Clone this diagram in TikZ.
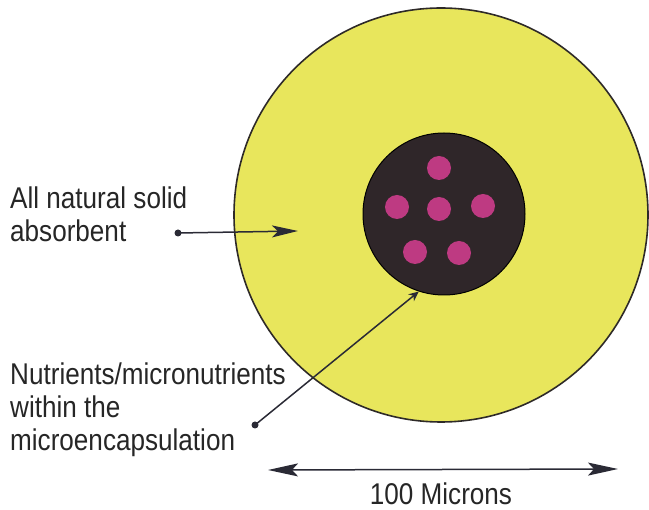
\documentclass[tikz,border=0pt]{standalone}
\usepackage{fontspec}
\usepackage{tikz}
\usetikzlibrary{arrows.meta}
\newfontfamily\labelfont{Liberation Sans}[FakeStretch=0.87]
\definecolor{SorbentYellow}{HTML}{E8E65C}
\definecolor{SorbentEdge}{HTML}{2E2A28}
\definecolor{CapsuleDark}{HTML}{2F2629}
\definecolor{NutrientPink}{HTML}{BE3A82}
\definecolor{LabelText}{HTML}{262626}
\definecolor{PointerLine}{HTML}{2A2A35}

\begin{document}
\begin{tikzpicture}[x=1pt,y=-1pt,
    label text/.style={text=LabelText,font=\labelfont\fontsize{30}{33}\selectfont,align=left,inner sep=0pt},
    pointer/.style={PointerLine,line width=1.5pt},
    pointer dot/.style={circle,fill=PointerLine,inner sep=0pt,minimum size=7pt}]
  \useasboundingbox (0,0) rectangle (649,510);
  \node[circle,draw=SorbentEdge,line width=1.6pt,fill=SorbentYellow,minimum size=414pt,inner sep=0pt] (sorbent) at (441,215) {};
  \node[circle,draw=black,line width=1pt,fill=CapsuleDark,minimum size=162pt,inner sep=0pt] (capsule) at (444,214) {};
  \foreach \px/\py [count=\i] in {439/168,397/207,439/209,483/206,415/252,459/253}
    \node[circle,fill=NutrientPink,minimum size=24pt,inner sep=0pt] (nutrient\i) at (\px,\py) {};
  \node[label text,anchor=north west] (sorbentlabel) at (10,187) {All natural solid\\absorbent};
  \node[pointer dot] (sorbentdot) at (178,233) {};
  \coordinate (sorbenttip) at (298,231);
  \draw[pointer,-{Stealth[length=26pt,width=12pt,inset=6pt]}] (sorbentdot.center) -- (sorbenttip);
  \node[label text,anchor=north west] (nutrientlabel) at (10,363) {Nutrients/micronutrients\\within the\\microencapsulation};
  \node[pointer dot] (nutrientdot) at (255,425) {};
  \draw[pointer,-{Stealth[length=10pt,width=9pt]}] (nutrientdot.center) -- (capsule.252);
  \coordinate (scaleleft) at (268,470);
  \coordinate (scaleright) at (618,469);
  \draw[pointer,{Stealth[length=30pt,width=13pt,inset=6pt]}-{Stealth[length=30pt,width=13pt,inset=6pt]}] (scaleleft) -- (scaleright);
  \node[label text,anchor=base] (scalelabel) at (441,505) {100 Microns};
\end{tikzpicture}
\end{document}
